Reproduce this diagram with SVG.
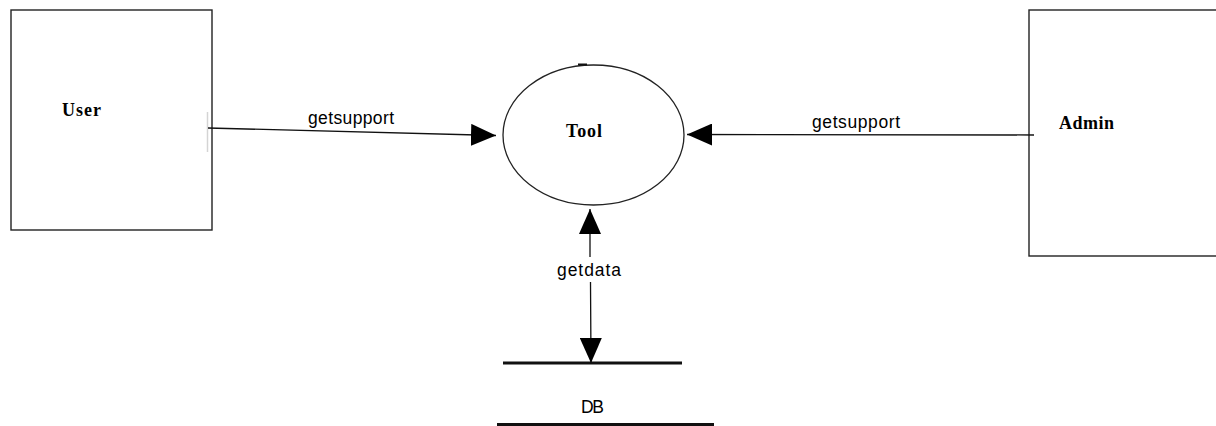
<svg xmlns="http://www.w3.org/2000/svg" width="1216" height="426" viewBox="0 0 1216 426">
  <style>
    .box { fill: #fff; stroke: #222; stroke-width: 1.4; }
    .proc { fill: #fff; stroke: #222; stroke-width: 1.3; }
    .flow { fill: none; stroke: #111; stroke-width: 1.3; }
    .store { stroke: #111; stroke-width: 3; }
    .ent { font-family: "Liberation Serif", "Times New Roman", serif; font-weight: bold; font-size: 18px; fill: #000; }
    .lbl { font-family: "Liberation Sans", Arial, sans-serif; font-size: 17.5px; fill: #000; }
  </style>
  <defs>
    <marker id="arrow" viewBox="0 0 25 22" refX="25" refY="11" markerWidth="25" markerHeight="22" markerUnits="userSpaceOnUse" orient="auto-start-reverse">
      <path d="M0,0 L25,11 L0,22 Z" fill="#000"/>
    </marker>
  </defs>
  <rect width="1216" height="426" fill="#fff"/>

  <g id="user">
    <rect class="box" x="11" y="10" width="201" height="220"/>
    <text class="ent" x="62" y="116" textLength="39">User</text>
  </g>

  <g id="admin">
    <rect class="box" x="1029" y="10" width="220" height="246"/>
    <text class="ent" x="1059" y="129" textLength="55">Admin</text>
  </g>

  <g id="tool">
    <ellipse class="proc" cx="593.5" cy="135" rx="90.5" ry="70"/>
    <line x1="578" y1="64.5" x2="587" y2="64.5" stroke="#111" stroke-width="2"/>
    <text class="ent" x="584" y="137" text-anchor="middle" textLength="36">Tool</text>
  </g>

  <g id="db">
    <line class="store" x1="503" y1="363" x2="682" y2="363"/>
    <line class="store" x1="497" y1="424.5" x2="714" y2="424.5"/>
    <text class="lbl" x="592.5" y="413" text-anchor="middle" textLength="23">DB</text>
  </g>

  <g id="connectors">
    <line x1="207.5" y1="112" x2="207.5" y2="152" stroke="#d4d4d4" stroke-width="1.5"/>
    <line class="flow" x1="208" y1="128" x2="496" y2="135.5" marker-end="url(#arrow)"/>
    <text class="lbl" x="351" y="124" text-anchor="middle" textLength="86">getsupport</text>

    <line class="flow" x1="1034" y1="135" x2="687" y2="134.5" marker-end="url(#arrow)"/>
    <text class="lbl" x="856" y="128" text-anchor="middle" textLength="88">getsupport</text>

    <path class="flow" d="M590,209 L590,257 M590.5,282 L591,363" marker-start="url(#arrow)" marker-end="url(#arrow)"/>
    <text class="lbl" x="589" y="276" text-anchor="middle" textLength="64">getdata</text>
  </g>
</svg>
